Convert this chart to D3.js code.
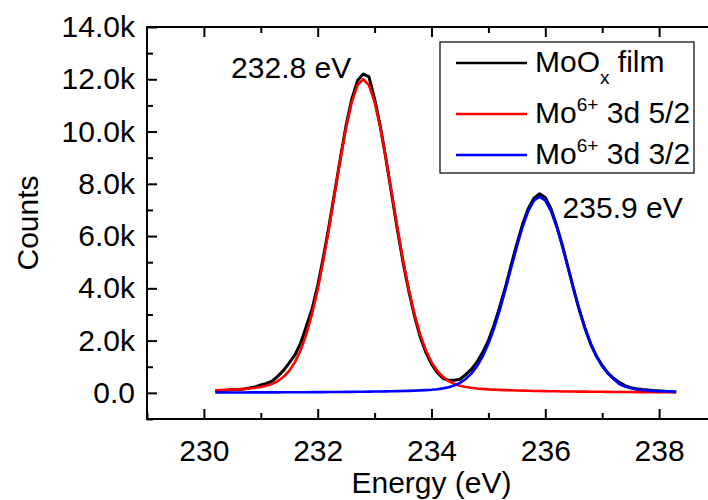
<!DOCTYPE html>
<html>
<head>
<meta charset="utf-8">
<script src="https://cdn.jsdelivr.net/npm/d3@7"></script>
<style>
  body { margin: 0; background: #fff; }
  text { font-family: Arial, "Liberation Sans", sans-serif; }
</style>
</head>
<body>
<div id="chart"></div>
<script>
// energy grid (eV)
var energy = [230.2,230.3,230.4,230.5,230.6,230.7,230.8,230.9,231.0,231.1,
  231.2,231.3,231.4,231.5,231.6,231.7,231.8,231.9,232.0,232.1,
  232.2,232.3,232.4,232.5,232.6,232.7,232.8,232.9,233.0,233.1,
  233.2,233.3,233.4,233.5,233.6,233.7,233.8,233.9,234.0,234.1,
  234.2,234.3,234.4,234.5,234.6,234.7,234.8,234.9,235.0,235.1,
  235.2,235.3,235.4,235.5,235.6,235.7,235.8,235.9,236.0,236.1,
  236.2,236.3,236.4,236.5,236.6,236.7,236.8,236.9,237.0,237.1,
  237.2,237.3,237.4,237.5,237.6,237.7,237.8,237.9,238.0,238.1,
  238.2,238.3];

// MoOx film (measured)
var film = [80,90,100,115,130,150,185,230,300,360,
  450,640,860,1150,1450,1900,2550,3200,4100,5200,
  6400,7700,9000,10250,11250,11950,12200,12100,11250,10200,
  8950,7600,6250,5000,3900,2950,2150,1550,1100,780,
  560,480,480,520,700,900,1180,1550,2000,2600,
  3300,4050,4900,5700,6450,7050,7450,7620,7480,7050,
  6400,5650,4800,3950,3150,2450,1850,1400,1050,760,
  560,400,280,200,160,130,110,90,75,60,
  45,30];

// Mo6+ 3d 5/2 fit
var fit52 = [98,106,114,124,134,150,169,193,226,275,
  347,455,614,846,1176,1631,2236,3010,3959,5074,
  6322,7643,8956,10157,11135,11776,12000,11776,11135,10157,
  8956,7643,6322,5074,3959,3010,2236,1631,1176,846,
  614,455,347,275,226,193,169,150,134,124,
  114,106,98,91,85,80,74,71,66,62,
  59,55,53,50,47,46,43,41,40,37,
  36,34,32,31,30,29,28,26,25,25,
  24,23];

// Mo6+ 3d 3/2 fit
var fit32 = [14,14,14,15,16,16,17,17,18,19,
  20,20,21,23,23,25,26,27,29,29,
  32,33,35,37,39,41,44,47,50,53,
  57,62,66,71,77,84,94,106,121,141,
  172,217,284,384,529,735,1019,1397,1881,2474,
  3171,3951,4777,5597,6348,6959,7360,7500,7360,6959,
  6348,5597,4777,3951,3171,2474,1881,1397,1019,735,
  529,340,240,175,135,108,90,76,66,58,
  52,46];

var seriesNames = ["MoOx film", "Mo6+ 3d 5/2", "Mo6+ 3d 3/2"];
var seriesColors = ["#000000", "#ff0000", "#0000ff"];
var xTicks = [230, 232, 234, 236, 238];
var yTicks = [0, 2000, 4000, 6000, 8000, 10000, 12000, 14000];
var peakLabels = [[232.8, "232.8 eV"], [235.9, "235.9 eV"]];

var width = 708, height = 500;
var margin = {left: 147, top: 27, right: -8, bottom: 81};
var fontSize = 30;

var svg = d3.select("#chart").append("svg")
  .attr("width", width)
  .attr("height", height);

var x = d3.scaleLinear().domain([229, 239])
  .range([margin.left, width - margin.right]);
var y = d3.scaleLinear().domain([-1000, 14000])
  .range([height - margin.bottom, margin.top]);

var plotW = width - margin.right - margin.left,
    plotH = height - margin.bottom - margin.top;

function fmtY(d){
  return d === 0 ? "0.0" : (d/1000).toFixed(1) + "k";
}

// AXES (ticks inside, mirrored on top)
svg.append("g")
  .attr("transform", "translate(0," + (height - margin.bottom) + ")")
  .call(d3.axisBottom(x).tickValues(xTicks).tickSize(-10).tickPadding(21));
svg.append("g")
  .attr("transform", "translate(0," + (height - margin.bottom) + ")")
  .call(d3.axisBottom(x).tickValues([229,231,233,235,237,239]).tickSize(-6).tickFormat(""));
svg.append("g")
  .attr("transform", "translate(0," + margin.top + ")")
  .call(d3.axisTop(x).tickValues(xTicks).tickSize(-10).tickFormat(""));
svg.append("g")
  .attr("transform", "translate(0," + margin.top + ")")
  .call(d3.axisTop(x).tickValues([231,233,235,237]).tickSize(-6).tickFormat(""));
svg.append("g")
  .attr("transform", "translate(" + margin.left + ",0)")
  .call(d3.axisLeft(y).tickValues(yTicks).tickSize(-10).tickPadding(12).tickFormat(fmtY));
svg.append("g")
  .attr("transform", "translate(" + margin.left + ",0)")
  .call(d3.axisLeft(y).tickValues([-1000,1000,3000,5000,7000,9000,11000,13000]).tickSize(-6).tickFormat(""));

svg.selectAll(".domain").remove();
svg.selectAll(".tick line").attr("stroke", "#000").attr("stroke-width", 2);
svg.selectAll(".tick text").attr("font-size", fontSize + "px").attr("fill", "#000");

svg.append("rect")
  .attr("x", margin.left).attr("y", margin.top)
  .attr("width", plotW).attr("height", plotH)
  .attr("fill", "none").attr("stroke", "#000").attr("stroke-width", 2);

// axis titles
svg.append("text")
  .attr("x", x(234))
  .attr("y", 493)
  .attr("text-anchor", "middle")
  .attr("font-size", fontSize + "px")
  .text("Energy (eV)");
svg.append("text")
  .attr("transform", "translate(38," + (y(6500)) + ") rotate(-90)")
  .attr("text-anchor", "middle")
  .attr("font-size", fontSize + "px")
  .text("Counts");

// LINES
var allSeries = [film, fit52, fit32];
var line = d3.line()
  .x(function(d, i){ return x(energy[i]); })
  .y(function(d){ return y(d); });

svg.selectAll(".series")
  .data(allSeries).enter()
  .append("path")
  .attr("class", "series")
  .attr("d", line)
  .attr("fill", "none")
  .attr("stroke", function(d, i){ return seriesColors[i]; })
  .attr("stroke-width", function(d, i){ return i === 0 ? 3 : 2.6; })
  .attr("stroke-linejoin", "round");

// PEAK LABELS
svg.append("text")
  .attr("x", x(peakLabels[0][0]) - 12)
  .attr("y", y(12100) + 1)
  .attr("text-anchor", "end")
  .attr("font-size", fontSize + "px")
  .text(peakLabels[0][1]);
svg.append("text")
  .attr("x", x(peakLabels[1][0]) + 23)
  .attr("y", y(7600) + 24)
  .attr("font-size", fontSize + "px")
  .text(peakLabels[1][1]);

// LEGEND
var legend = svg.append("g");
legend.append("rect")
  .attr("x", 440).attr("y", 42)
  .attr("width", 254).attr("height", 131)
  .attr("fill", "#fff").attr("stroke", "#000").attr("stroke-width", 1.2);

var rowY = [63, 114, 155];
seriesNames.forEach(function(name, i){
  legend.append("line")
    .attr("x1", 456).attr("x2", 527)
    .attr("y1", rowY[i]).attr("y2", rowY[i])
    .attr("stroke", seriesColors[i]).attr("stroke-width", 2.6);
  var t = legend.append("text")
    .attr("x", 535).attr("y", rowY[i] + 9)
    .attr("font-size", fontSize + "px");
  if (i === 0) {
    t.append("tspan").text("MoO");
    t.append("tspan").attr("dy", 12).attr("font-size", "19px").text("x");
    t.append("tspan").attr("dy", -12).text(" film");
  } else {
    t.append("tspan").text("Mo");
    t.append("tspan").attr("dy", -12).attr("font-size", "19px").text("6+");
    t.append("tspan").attr("dy", 12).text(i === 1 ? " 3d 5/2" : " 3d 3/2");
  }
});
</script>
</body>
</html>
